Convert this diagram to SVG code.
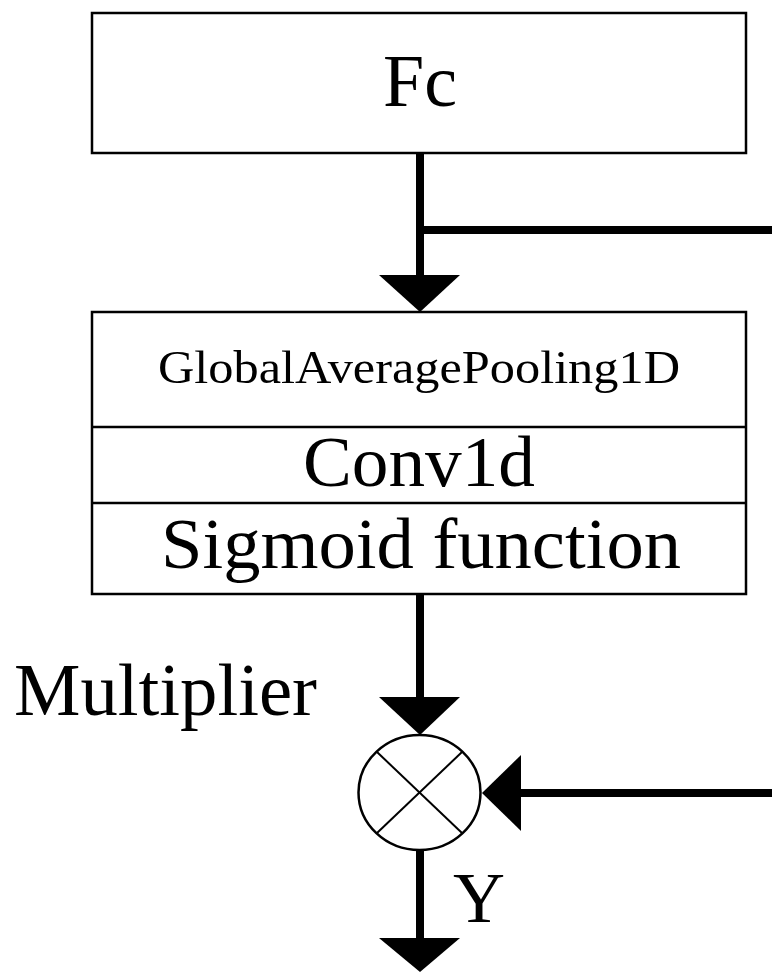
<svg xmlns="http://www.w3.org/2000/svg" width="772" height="972" viewBox="0 0 772 972">
<style>
.box{fill:#fff;stroke:#000;stroke-width:2.5}
.div{stroke:#000;stroke-width:2.5}
.wire{fill:none;stroke:#000;stroke-width:8;stroke-linecap:round}
.wireb{fill:none;stroke:#000;stroke-width:8;stroke-linecap:butt}
.head{fill:#000}
.t{font-family:"Liberation Serif","Times New Roman",serif;fill:#000}
.thin{stroke:#000;stroke-width:2;fill:none}
</style>
<rect width="772" height="972" fill="#fff"/>
<g id="connectors">
  <line class="wire" x1="420" y1="153" x2="420" y2="280"/>
  <line class="wireb" x1="420" y1="230" x2="772" y2="230"/>
  <polygon class="head" points="379,275 460,275 420,312"/>
  <line class="wire" x1="420" y1="594" x2="420" y2="700"/>
  <polygon class="head" points="379,697 460,697 420,735"/>
  <line class="wireb" x1="772" y1="793" x2="515" y2="793"/>
  <polygon class="head" points="482,793 521,755 521,831"/>
  <line class="wire" x1="420" y1="850" x2="420" y2="942"/>
  <polygon class="head" points="379,938 460,938 420,972"/>
</g>
<g id="fc">
  <rect class="box" x="92" y="13" width="654" height="140"/>
  <text class="t" x="420" y="106" font-size="74" text-anchor="middle">Fc</text>
</g>
<g id="block">
  <rect class="box" x="92" y="312" width="654" height="282"/>
  <line class="div" x1="92" y1="427" x2="746" y2="427"/>
  <line class="div" x1="92" y1="503" x2="746" y2="503"/>
  <text class="t" x="158" y="383" font-size="47" textLength="522" lengthAdjust="spacingAndGlyphs">GlobalAveragePooling1D</text>
  <text class="t" x="303" y="486" font-size="72" textLength="232" lengthAdjust="spacingAndGlyphs">Conv1d</text>
  <text class="t" x="161" y="568" font-size="72" textLength="520" lengthAdjust="spacingAndGlyphs">Sigmoid function</text>
</g>
<g id="multiplier">
  <ellipse cx="419.5" cy="792.5" rx="61" ry="57.5" fill="#fff" stroke="#000" stroke-width="2.5"/>
  <line class="thin" x1="377" y1="752" x2="462" y2="833"/>
  <line class="thin" x1="462" y1="752" x2="377" y2="833"/>
</g>
<g id="labels">
  <text class="t" x="14" y="715" font-size="73" textLength="303" lengthAdjust="spacingAndGlyphs">Multiplier</text>
  <text class="t" x="453" y="922" font-size="72">Y</text>
</g>
</svg>
